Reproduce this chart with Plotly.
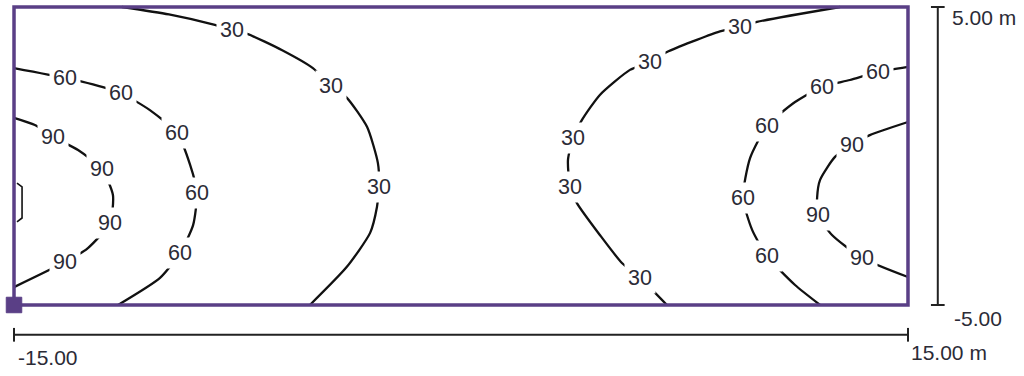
import plotly.graph_objects as go

# room extents (m)
room_x = [-15.0, 15.0]
room_y = [-5.0, 5.0]

# isolines (m)
iso30_left_x = [-11.38, -9.8, -8.26, -7.68, -7.15, -6.0, -4.97, -4.36, -3.83, -3.15, -2.79, -2.75, -2.82, -3.05, -3.83, -5.07]
iso30_left_y = [5.0, 4.75, 4.40, 4.23, 4.09, 3.55, 2.95, 2.35, 1.95, 0.97, -0.23, -1.04, -1.71, -2.58, -3.72, -5.0]
iso60_left_x = [-15.0, -13.29, -12.35, -11.41, -10.44, -9.53, -9.09, -8.86, -8.99, -9.43, -10.10, -11.51]
iso60_left_y = [2.95, 2.62, 2.40, 2.11, 1.54, 0.77, -0.30, -1.24, -2.32, -3.26, -4.09, -5.0]
iso90_left_x = [-15.0, -14.30, -13.69, -12.85, -12.05, -11.68, -11.78, -12.52, -13.29, -15.0]
iso90_left_y = [1.28, 1.04, 0.64, 0.20, -0.44, -1.31, -2.25, -3.09, -3.56, -4.40]

iso30_right_x = [12.72, 9.93, 9.36, 8.62, 6.91, 6.34, 5.67, 4.66, 4.06, 3.76, 3.59, 3.66, 3.89, 4.66, 5.40, 6.01, 6.91]
iso30_right_y = [5.0, 4.50, 4.33, 4.16, 3.49, 3.15, 2.89, 2.05, 1.21, 0.60, -0.13, -1.04, -1.58, -2.65, -3.59, -4.09, -5.0]
iso60_right_x = [15.0, 13.99, 13.05, 12.11, 11.21, 10.27, 9.70, 9.46, 9.77, 10.27, 11.21, 12.05]
iso60_right_y = [2.99, 2.82, 2.55, 2.32, 1.81, 1.01, -0.07, -1.41, -2.48, -3.36, -4.33, -5.0]
iso90_right_x = [15.0, 13.72, 13.12, 12.55, 12.05, 11.95, 11.98, 12.45, 13.46, 15.0]
iso90_right_y = [1.14, 0.70, 0.37, -0.03, -0.80, -1.40, -1.98, -2.65, -3.42, -4.06]

# isoline labels (lx)
label_text = ["30", "30", "30", "30", "30", "30", "30", "30",
              "60", "60", "60", "60", "60", "60", "60", "60", "60", "60",
              "90", "90", "90", "90", "90", "90", "90"]
label_x = [-7.68, -4.36, -2.75, 9.36, 6.34, 3.76, 3.66, 6.01,
           -13.29, -11.41, -9.53, -8.86, -9.43, 13.99, 12.11, 10.27, 9.46, 10.27,
           -13.69, -12.05, -11.78, -13.29, 13.12, 11.98, 13.46]
label_y = [4.23, 2.35, -1.04, 4.33, 3.15, 0.60, -1.04, -4.09,
           2.62, 2.11, 0.77, -1.24, -3.26, 2.82, 2.32, 1.01, -1.41, -3.36,
           0.64, -0.44, -2.25, -3.56, 0.37, -1.98, -3.42]

# small luminaire mark on the left wall
lum_x = [-14.90, -14.73, -14.73, -14.90]
lum_y = [-0.91, -1.04, -2.08, -2.21]

PURPLE = "#5a3f86"
TXT = "#2b2b36"
FONT = "Liberation Sans, Arial, sans-serif"

fig = go.Figure()

isolines = [
    (iso30_left_x, iso30_left_y), (iso60_left_x, iso60_left_y), (iso90_left_x, iso90_left_y),
    (iso30_right_x, iso30_right_y), (iso60_right_x, iso60_right_y), (iso90_right_x, iso90_right_y),
]
for xs, ys in isolines:
    fig.add_trace(go.Scatter(
        x=xs, y=ys, mode="lines",
        line=dict(color="#111111", width=2.3, shape="spline", smoothing=0.6),
        hoverinfo="skip", showlegend=False,
    ))

fig.add_trace(go.Scatter(
    x=lum_x, y=lum_y, mode="lines",
    line=dict(color="#111111", width=1.6),
    hoverinfo="skip", showlegend=False,
))

for t, x, y in zip(label_text, label_x, label_y):
    fig.add_annotation(
        x=x, y=y, text=t, showarrow=False,
        font=dict(family=FONT, size=21.5, color=TXT),
        bgcolor="white", borderpad=3,
    )

# room outline + origin marker
fig.add_shape(type="rect", x0=room_x[0], x1=room_x[1], y0=room_y[0], y1=room_y[1],
              line=dict(color=PURPLE, width=3.5), layer="above")
fig.add_shape(type="rect", x0=room_x[0] - 0.26, x1=room_x[0] + 0.26,
              y0=room_y[0] - 0.26, y1=room_y[0] + 0.26,
              line=dict(color=PURPLE, width=1), fillcolor=PURPLE, layer="above")

# dimension bars
bar_y = -6.0
bar_x = 16.0
cap = 0.23
dim = dict(color="#222222", width=2)
fig.add_shape(type="line", x0=room_x[0], x1=room_x[1], y0=bar_y, y1=bar_y, line=dim)
fig.add_shape(type="line", x0=room_x[0], x1=room_x[0], y0=bar_y - cap, y1=bar_y + cap, line=dim)
fig.add_shape(type="line", x0=room_x[1], x1=room_x[1], y0=bar_y - cap, y1=bar_y + cap, line=dim)
fig.add_shape(type="line", x0=bar_x, x1=bar_x, y0=room_y[0], y1=room_y[1], line=dim)
fig.add_shape(type="line", x0=bar_x - cap, x1=bar_x + cap, y0=room_y[0], y1=room_y[0], line=dim)
fig.add_shape(type="line", x0=bar_x - cap, x1=bar_x + cap, y0=room_y[1], y1=room_y[1], line=dim)

dim_font = dict(family=FONT, size=21, color=TXT)
fig.add_annotation(x=room_x[0] + 0.05, y=-6.75, text="-15.00", showarrow=False,
                   xanchor="left", font=dim_font)
fig.add_annotation(x=room_x[1] + 0.05, y=-6.58, text="15.00 m", showarrow=False,
                   xanchor="left", font=dim_font)
fig.add_annotation(x=16.41, y=4.66, text="5.00 m", showarrow=False,
                   xanchor="left", font=dim_font)
fig.add_annotation(x=16.48, y=-5.44, text="-5.00", showarrow=False,
                   xanchor="left", font=dim_font)

fig.update_layout(
    width=1024, height=376,
    margin=dict(l=0, r=0, t=0, b=0),
    paper_bgcolor="white", plot_bgcolor="white",
    xaxis=dict(range=[-15.470, 18.893], visible=False, fixedrange=True),
    yaxis=dict(range=[-7.383, 5.235], visible=False, fixedrange=True),
    showlegend=False,
)

fig.write_html("out.html", config={"displayModeBar": False},
               post_script="document.body.style.margin='0';")
